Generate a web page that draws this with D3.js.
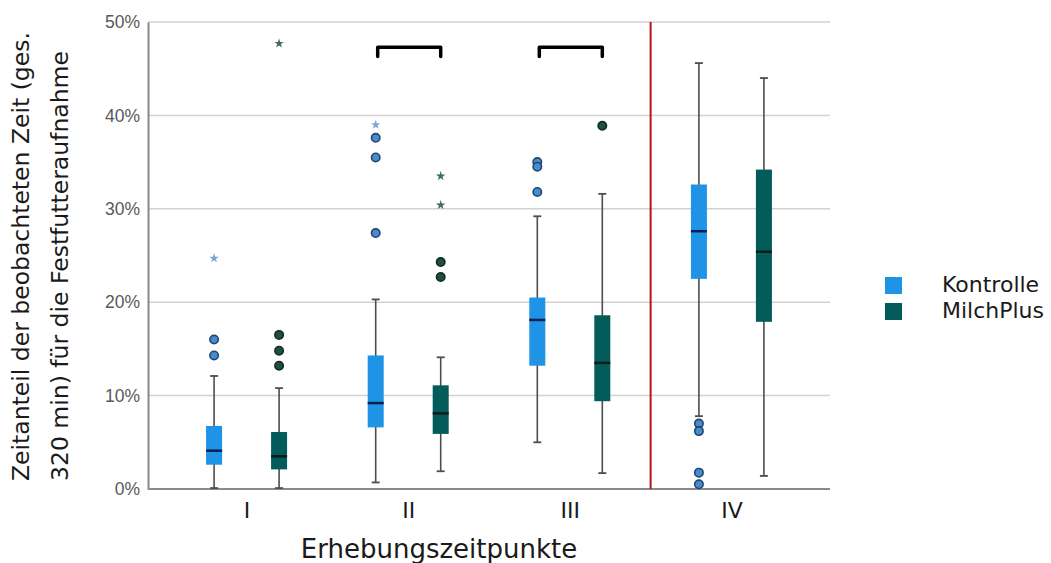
<!DOCTYPE html>
<meta charset="utf-8">
<script src="https://d3js.org/d3.v7.min.js"></script>
<style>
body { margin: 0; background: #fff; }
</style>
<body>
<div id="chart"></div>
<script>
// categories and series
var categories = ["I", "II", "III", "IV"];
var series = ["Kontrolle", "MilchPlus"];
var yTicks = [0, 0.1, 0.2, 0.3, 0.4, 0.5];

// box stats per category: [whiskerLow, q1, median, q3, whiskerHigh]
var kontrolleBoxes = [
  [0.001, 0.026, 0.041, 0.0675, 0.121],
  [0.007, 0.066, 0.092, 0.143, 0.203],
  [0.050, 0.132, 0.181, 0.205, 0.292],
  [0.078, 0.225, 0.276, 0.326, 0.456]
];
var milchPlusBoxes = [
  [0.001, 0.021, 0.035, 0.061, 0.108],
  [0.019, 0.059, 0.081, 0.111, 0.141],
  [0.017, 0.094, 0.135, 0.186, 0.316],
  [0.014, 0.179, 0.254, 0.342, 0.440]
];
// outliers (circles) and extremes (stars)
var kontrolleOutliers = [[0.160, 0.143], [0.376, 0.355, 0.274], [0.350, 0.345, 0.318], [0.070, 0.062, 0.0175, 0.005]];
var kontrolleExtremes = [[0.247], [0.390], [], []];
var milchPlusOutliers = [[0.165, 0.148, 0.132], [0.243, 0.227], [0.389], []];
var milchPlusExtremes = [[0.477], [0.335, 0.304], [], []];
// significance brackets
var brackets = ["II", "III"];

var boxes = {Kontrolle: kontrolleBoxes, MilchPlus: milchPlusBoxes};
var outliers = {Kontrolle: kontrolleOutliers, MilchPlus: milchPlusOutliers};
var extremes = {Kontrolle: kontrolleExtremes, MilchPlus: milchPlusExtremes};
var fill = {Kontrolle: "#1f93e6", MilchPlus: "#035c5a"};
var medianColor = {Kontrolle: "#0b1f4a", MilchPlus: "#0d1a1a"};
var outFill = {Kontrolle: "#4a8ccb", MilchPlus: "#1f4f44"};
var outStroke = {Kontrolle: "#1d4675", MilchPlus: "#0f2a24"};
var starColor = {Kontrolle: "#7da6d6", MilchPlus: "#3f6e5f"};

var W = 1051, H = 563;
var plotLeft = 148, plotRight = 830, plotTop = 22, plotBottom = 489;

var svg = d3.select("#chart").append("svg")
  .attr("width", W).attr("height", H);

var x = d3.scalePoint().domain(categories).range([plotLeft, plotRight]).padding(0.61);
var dx = d3.scalePoint().domain(series).range([-32.5, 32.5]);
var y = d3.scaleLinear().domain([0, 0.5]).range([plotBottom, plotTop]);

// gridlines
svg.append("g").selectAll("line")
  .data(yTicks.slice(1))
  .enter().append("line")
    .attr("x1", plotLeft).attr("x2", plotRight)
    .attr("y1", function(d) { return y(d); })
    .attr("y2", function(d) { return y(d); })
    .attr("stroke", "#d2d2d2").attr("stroke-width", 1.5);

// y axis
var yAxis = svg.append("g")
  .attr("transform", "translate(" + plotLeft + ",0)")
  .call(d3.axisLeft(y).tickValues(yTicks).tickFormat(d3.format(".0%")).tickSize(0).tickPadding(8));
yAxis.select(".domain").attr("stroke", "#8a8a8a").attr("stroke-width", 2);
yAxis.selectAll("text").attr("font-family", "Liberation Sans, Arial, sans-serif")
  .attr("font-size", 17.5).attr("fill", "#595959");

// x axis
var xAxis = svg.append("g")
  .attr("transform", "translate(0," + plotBottom + ")")
  .call(d3.axisBottom(x).tickSize(0).tickPadding(13));
xAxis.select(".domain").attr("d", "M" + plotLeft + ",0H" + plotRight).attr("stroke", "#8a8a8a").attr("stroke-width", 2);
xAxis.selectAll("text").attr("font-family", "DejaVu Sans, sans-serif")
  .attr("font-size", 22).attr("fill", "#1a1a1a");

// red separator between III and IV
var sepX = (x("III") + x("IV")) / 2;
svg.append("line")
  .attr("x1", sepX).attr("x2", sepX)
  .attr("y1", y(0.5)).attr("y2", y(0))
  .attr("stroke", "#b3141c").attr("stroke-width", 2);

var bw = 16;
series.forEach(function(s) {
  var g = svg.append("g");
  var data = boxes[s].map(function(b, i) { return {cat: categories[i], b: b}; });
  var cx = function(d) { return x(d.cat) + dx(s); };

  // whiskers
  g.selectAll(".wl").data(data).enter().append("line")
    .attr("x1", cx).attr("x2", cx)
    .attr("y1", function(d) { return y(d.b[0]); })
    .attr("y2", function(d) { return y(d.b[4]); })
    .attr("stroke", "#4d4d4d").attr("stroke-width", 1.6);
  [0, 4].forEach(function(k) {
    g.selectAll(".cap" + k).data(data).enter().append("line")
      .attr("x1", function(d) { return cx(d) - 4; })
      .attr("x2", function(d) { return cx(d) + 4; })
      .attr("y1", function(d) { return y(d.b[k]); })
      .attr("y2", function(d) { return y(d.b[k]); })
      .attr("stroke", "#4d4d4d").attr("stroke-width", 1.8);
  });
  // boxes
  g.selectAll("rect").data(data).enter().append("rect")
    .attr("x", function(d) { return cx(d) - bw / 2; })
    .attr("width", bw)
    .attr("y", function(d) { return y(d.b[3]); })
    .attr("height", function(d) { return y(d.b[1]) - y(d.b[3]); })
    .attr("fill", fill[s]);
  // medians
  g.selectAll(".med").data(data).enter().append("line")
    .attr("x1", function(d) { return cx(d) - bw / 2; })
    .attr("x2", function(d) { return cx(d) + bw / 2; })
    .attr("y1", function(d) { return y(d.b[2]); })
    .attr("y2", function(d) { return y(d.b[2]); })
    .attr("stroke", medianColor[s]).attr("stroke-width", 2.5);

  // outliers
  var outs = [];
  outliers[s].forEach(function(arr, i) { arr.forEach(function(v) { outs.push({cat: categories[i], v: v}); }); });
  g.selectAll("circle").data(outs).enter().append("circle")
    .attr("cx", cx).attr("cy", function(d) { return y(d.v); })
    .attr("r", 4.2)
    .attr("fill", outFill[s]).attr("stroke", outStroke[s]).attr("stroke-width", 1.6);

  // extremes
  var ext = [];
  extremes[s].forEach(function(arr, i) { arr.forEach(function(v) { ext.push({cat: categories[i], v: v}); }); });
  g.selectAll(".star").data(ext).enter().append("path")
    .attr("d", d3.symbol().type(d3.symbolStar).size(28))
    .attr("transform", function(d) { return "translate(" + cx(d) + "," + y(d.v) + ")"; })
    .attr("fill", starColor[s]);
});

// brackets
svg.append("g").selectAll("path").data(brackets).enter().append("path")
  .attr("d", function(c) {
    var x1 = x(c) + dx("Kontrolle") + 2, x2 = x(c) + dx("MilchPlus");
    return "M" + x1 + "," + y(0.463) + "V" + y(0.473) + "H" + x2 + "V" + y(0.463);
  })
  .attr("fill", "none").attr("stroke", "#000").attr("stroke-width", 3.5)
  .attr("stroke-linejoin", "round").attr("stroke-linecap", "round");

// axis titles
svg.append("text")
  .attr("x", 439).attr("y", 558)
  .attr("text-anchor", "middle")
  .attr("font-family", "DejaVu Sans, sans-serif").attr("font-size", 26)
  .attr("fill", "#1a1a1a")
  .text("Erhebungszeitpunkte");

var yt = svg.append("text")
  .attr("transform", "translate(0,481) rotate(-90)")
  .attr("font-family", "DejaVu Sans, sans-serif").attr("font-size", 23.5)
  .attr("fill", "#1a1a1a");
yt.append("tspan").attr("x", 0).attr("y", 29).text("Zeitanteil der beobachteten Zeit (ges.");
yt.append("tspan").attr("x", 0).attr("y", 68).text("320 min) für die Festfutteraufnahme");

// legend
var legend = svg.append("g").selectAll("g").data(series).enter().append("g")
  .attr("transform", function(d, i) { return "translate(885," + (277 + i * 26) + ")"; });
legend.append("rect").attr("width", 17).attr("height", 17)
  .attr("fill", function(d) { return fill[d]; });
legend.append("text").attr("x", 57).attr("y", 15)
  .attr("font-family", "DejaVu Sans, sans-serif").attr("font-size", 22)
  .attr("fill", "#1a1a1a")
  .text(function(d) { return d; });
</script>
</body>
